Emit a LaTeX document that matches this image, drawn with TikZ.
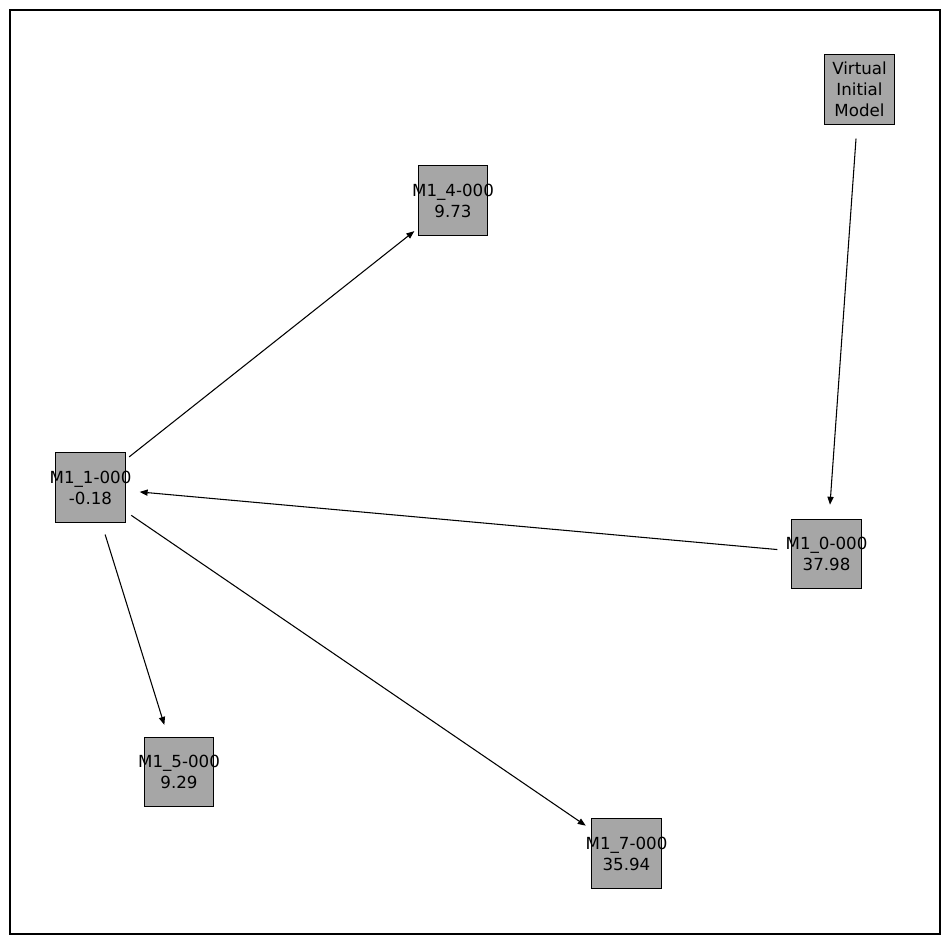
\documentclass[tikz,border=0pt]{standalone}
\usepackage{fontspec}
\setmainfont{DejaVu Sans}
\usetikzlibrary{arrows.meta}
\definecolor{boxgray}{RGB}{166,166,166}
\newcommand{\zw}[1]{\makebox[0pt]{#1}}
\tikzset{
  model/.style={rectangle, draw=black, fill=boxgray, line width=0.9pt,
                minimum size=52pt, inner sep=0pt, align=center,
                font=\fontsize{12.5}{15.75}\selectfont},
  link/.style={-{Triangle[length=6pt,width=4.6pt]}, line width=0.8pt,
               shorten >=37pt, shorten <=37pt},
  frame/.style={draw=black, line width=0.8pt},
}

\begin{document}
\begin{tikzpicture}[x=0.75pt,y=-0.75pt]
  \useasboundingbox (0,0) rectangle (950,944);
  \draw[frame] (10,10) rectangle (940,934);

  % models
  \node[model] (virt) at (859.5,89.5) {\zw{Virtual}\\\zw{Initial}\\\zw{Model}};
  \node[model] (m4) at (453,200.5) {\zw{M1\_4-000}\\\zw{9.73}};
  \node[model] (m1) at (90.5,487.5) {\zw{M1\_1-000}\\\zw{-0.18}};
  \node[model] (m0) at (826.5,554) {\zw{M1\_0-000}\\\zw{37.98}};
  \node[model] (m5) at (179,772) {\zw{M1\_5-000}\\\zw{9.29}};
  \node[model] (m7) at (626.5,853.5) {\zw{M1\_7-000}\\\zw{35.94}};

  % edges
  \draw[link] (virt.center) -- (m0.center);
  \draw[link] (m0.center) -- (m1.center);
  \draw[link] (m1.center) -- (m4.center);
  \draw[link] (m1.center) -- (m5.center);
  \draw[link] (m1.center) -- (m7.center);
\end{tikzpicture}
\end{document}
